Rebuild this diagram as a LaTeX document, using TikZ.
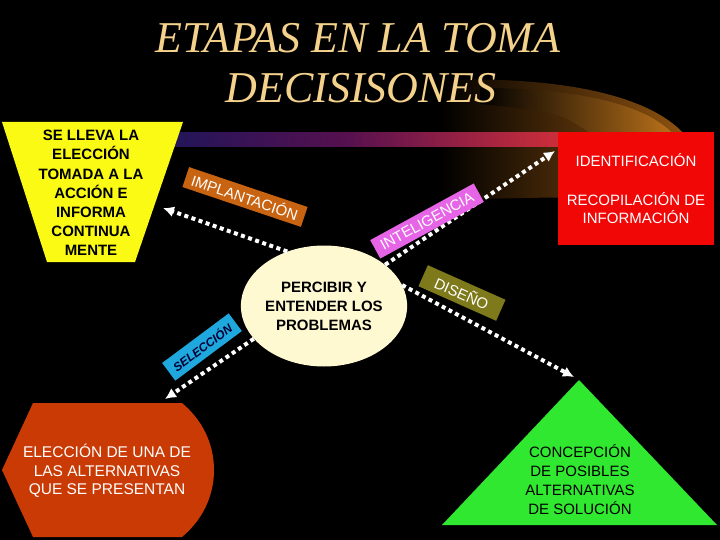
\documentclass[tikz,border=0pt]{standalone}
\usepackage{fontspec}
\setmainfont{Liberation Serif}
\newfontfamily\arial{Liberation Sans}
\usetikzlibrary{shapes.geometric,arrows.meta,positioning}

\definecolor{titlegold}{HTML}{F5D28C}
\definecolor{barnavy}{HTML}{16165C}
\definecolor{barpurple}{HTML}{55104F}
\definecolor{barred}{HTML}{CC2E3A}
\definecolor{swooshor}{HTML}{8E5210}
\definecolor{swooshlt}{HTML}{B8701A}
\definecolor{trapyellow}{HTML}{FAFA14}
\definecolor{boxred}{HTML}{F20707}
\definecolor{shapered}{HTML}{C93A05}
\definecolor{trigreen}{HTML}{30E830}
\definecolor{cream}{HTML}{FFF9D2}
\definecolor{implcol}{HTML}{C86411}
\definecolor{intelcol}{HTML}{E665E6}
\definecolor{disecol}{HTML}{7E7A1C}
\definecolor{selecol}{HTML}{1FA8DE}

\tikzset{
  dotarrow/.style={white, line width=4pt, dash pattern=on 4pt off 3.5pt,
    -{Latex[length=11pt,width=11pt]}},
  stagelabel/.style={font=\arial\fontsize{15}{15}\selectfont, text=white,
    inner xsep=4pt, inner ysep=0pt, minimum height=21pt},
  stagetext/.style={align=center, font=\arial\fontsize{15}{19}\selectfont},
}

\begin{document}
\begin{tikzpicture}[x=1pt,y=-1pt]
\useasboundingbox (0,0) rectangle (720,540);
\fill[black] (0,0) rectangle (720,540);

% background swoosh and bar
\shade[left color=black, right color=swooshor] (440,80) .. controls (560,76) and (650,95) .. (685,135)
  -- (685,205) .. controls (600,196) .. (440,200) -- cycle;
\shade[left color=black, right color=swooshlt] (480,88) .. controls (575,88) and (645,104) .. (672,133)
  -- (600,140) .. controls (560,112) .. (480,104) -- cycle;
\shade[left color=barnavy, right color=barred, middle color=barpurple] (130,133) rectangle (558,147);

% title
\node (title1) at (358,53) [anchor=base, text=titlegold, font=\itshape\fontsize{44}{50}\selectfont] {ETAPAS EN LA TOMA};
\node (title2) at (361,103) [anchor=base, text=titlegold, font=\itshape\fontsize{44}{50}\selectfont] {DECISISONES};

% shapes
\fill[trapyellow] (2,122) -- (183,122) -- (135,262) -- (47,262) -- cycle;
\node (llevar) at (91,193) [stagetext, font=\arial\bfseries\fontsize{15}{19.2}\selectfont]
  {SE LLEVA LA\\ELECCIÓN\\TOMADA A LA\\ACCIÓN E\\INFORMA\\CONTINUA\\MENTE};

\node (ident) at (636,188.5) [fill=boxred, minimum width=156pt, minimum height=113pt, stagetext, text=white, font=\arial\fontsize{15}{18}\selectfont]
  {IDENTIFICACIÓN\\[21pt]RECOPILACIÓN DE\\INFORMACIÓN};

\node (percibir) at (324,306) [ellipse, fill=cream, minimum width=158pt, minimum height=121pt, inner sep=0pt,
  stagetext, font=\arial\bfseries\fontsize{15}{19}\selectfont] {PERCIBIR Y\\ENTENDER LOS\\PROBLEMAS};

\fill[shapered] (33,403) -- (182,403) .. controls (207,424) and (214,450) .. (214,470)
  .. controls (214,490) and (207,516) .. (182,537) -- (33,537) -- (2,470) -- cycle;
\node (eleccion) at (107,471) [stagetext, text=white, font=\arial\fontsize{15.5}{18.5}\selectfont]
  {ELECCIÓN DE UNA DE\\LAS ALTERNATIVAS\\QUE SE PRESENTAN};

\fill[trigreen] (579,380) -- (717,525) -- (442,525) -- cycle;
\node (concepcion) at (580,480) [stagetext] {CONCEPCIÓN\\DE POSIBLES\\ALTERNATIVAS\\DE SOLUCIÓN};

% arrow ends
\coordinate (cImpl) at (163,208);
\coordinate (cIdent) at (555,151);
\coordinate (cDise) at (574,377);
\coordinate (cSele) at (165,399);

\draw[dotarrow] (percibir.124) -- (cImpl);
\draw[dotarrow] (percibir.34) -- (cIdent);
\draw[dotarrow] (percibir.15) -- (cDise);
\draw[dotarrow] (percibir.205) -- (cSele);

% stage labels
\node (implant) at (245,197) [stagelabel, fill=implcol, rotate=-18.6, minimum width=125pt] {IMPLANTACIÓN};
\node (intel) at (427,221) [stagelabel, fill=intelcol, rotate=28.7, minimum width=118pt] {INTELIGENCIA};
\node (diseno) at (462,293) [stagelabel, fill=disecol, rotate=-24, minimum width=85pt, minimum height=23pt] {DISEÑO};
\node (selec) at (202,347) [stagelabel, fill=selecol, rotate=36.7, minimum width=83pt, minimum height=22pt,
  text={black!80!blue}, font=\arial\bfseries\itshape\fontsize{12}{12}\selectfont] {SELECCIÓN};
\end{tikzpicture}
\end{document}
